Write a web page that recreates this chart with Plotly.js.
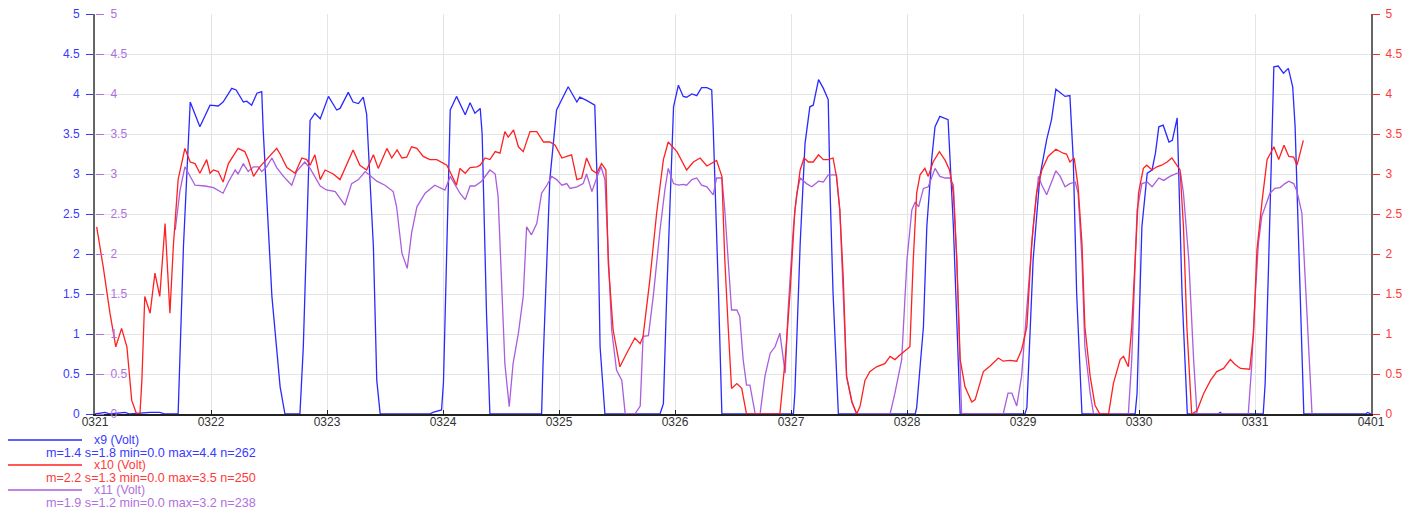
<!DOCTYPE html>
<html><head><meta charset="utf-8">
<script src="https://cdn.plot.ly/plotly-3.0.1.min.js"></script>
<style>html,body{margin:0;padding:0;background:#fff;}#chart{width:1419px;height:511px;}</style>
</head><body><div id="chart"></div>
<script>
// Day ticks (hours since 03-21 00:00) and their labels
const dayTicks = [0,24,48,72,96,120,144,168,192,216,240,264];
const dayLabels = ['0321','0322','0323','0324','0325','0326','0327','0328','0329','0330','0331','0401'];

// Series names and stats
const seriesNames = ['x9 (Volt)','x10 (Volt)','x11 (Volt)'];
const seriesStats = ['m=1.4 s=1.8 min=0.0 max=4.4 n=262','m=2.2 s=1.3 min=0.0 max=3.5 n=250','m=1.9 s=1.2 min=0.0 max=3.2 n=238'];
const seriesColors = ['#2a2aff','#ff2020','#aa5ddd'];
const labelColors = ['#3a3aff','#ff3a3a','#b070e0'];

// x9 (blue, left axis)
const x9Hours = [0,2.1,3.1,6.2,7.2,11.4,13.4,14.5,17.2,18.3,
19.7,21.7,23.8,25.5,26.5,28.3,29.2,30.7,31.4,32.4,
33.5,34.5,34.8,36.6,38.3,39.3,42.4,43.1,44.5,45.5,
46.6,48.3,50.0,50.7,52.4,53.4,54.5,55.5,56.2,57.6,
58.3,59.0,69.3,69.9,71.7,72.1,73.5,74.8,76.6,77.6,
78.6,79.7,80.1,81.0,81.7,92.4,92.7,94.1,95.5,96.5,
97.9,99.7,100.3,101.7,103.4,103.9,104.5,105.5,116.9,117.6,
118.3,119.7,120.7,121.7,122.4,123.5,124.5,125.5,126.6,127.6,
127.9,129.0,129.7,144.5,144.8,145.9,146.9,147.9,148.6,149.7,
150.7,151.7,152.1,152.7,153.8,169.7,170.0,171.4,172.1,173.1,
173.8,174.8,176.5,177.6,178.3,179.0,192.4,192.8,194.1,195.5,
196.9,197.9,198.8,200.7,201.7,202.4,203.1,204.2,215.2,215.6,
216.6,217.7,218.7,219.4,220.1,221.0,222.2,222.9,223.9,224.3,
224.9,226.0,232.4,232.8,233.2,241.7,242.1,242.8,243.5,243.9,
244.8,245.9,246.9,247.8,248.3,249.0,249.7,250.1,262.9,263.3,
264];
const x9Volts = [0,0.02,0,0.02,0,0.02,0.02,0,0,2.09,
3.9,3.59,3.86,3.85,3.9,4.07,4.05,3.9,3.91,3.86,
4.01,4.03,3.55,1.47,0.34,0,0,0.84,3.67,3.76,
3.69,3.97,3.8,3.82,4.02,3.9,3.88,3.96,3.75,2.09,
0.42,0,0,0.02,0.05,0.4,3.8,3.97,3.74,3.89,
3.76,3.82,3.5,1.26,0,0,0.63,2.93,3.8,3.92,
4.09,3.9,3.96,3.92,3.86,2.9,0.84,0,0,0.13,
1.51,3.84,4.11,3.97,3.96,4.0,3.98,4.08,4.08,4.05,
3.59,1.51,0,0,0.26,2.13,3.38,3.84,3.86,4.18,
4.07,3.93,2.76,1.51,0,0,0.08,1.09,2.34,3.18,
3.59,3.72,3.68,2.34,1.09,0,0,0.08,1.93,2.97,
3.43,3.68,4.06,3.97,3.98,3.18,1.51,0,0,0.26,
2.34,3.01,3.05,3.26,3.59,3.61,3.4,3.42,3.7,2.76,
1.51,0,0,0.02,0,0,0.38,1.84,3.3,4.34,
4.35,4.26,4.32,4.09,3.59,2.05,0.8,0,0,0.02,
0];

// x10 (red, right axis)
const x10Hours = [0.35,1.7,3.1,4.3,5.5,6.6,7.6,8.6,9.3,9.7,
10.3,11.4,12.4,13.4,14.5,15.5,16.2,17.2,18.6,19.7,
20.7,21.7,23.1,23.8,24.5,25.5,26.5,27.6,29.6,31.0,
31.7,32.8,34.1,36.2,37.6,38.3,39.7,41.4,42.8,43.8,
44.5,45.5,46.6,47.6,49.3,50.7,52.1,53.4,54.8,56.2,
57.6,58.6,60.4,61.4,62.5,63.5,64.5,65.5,66.6,67.9,
69.3,70.7,72.8,73.8,74.8,75.5,76.6,77.6,79.0,79.7,
80.7,81.7,82.8,83.8,84.8,85.5,86.6,87.6,88.6,90.0,
91.4,92.8,94.1,95.2,96.6,97.6,98.6,99.7,100.7,101.7,
102.8,103.8,104.8,105.7,106.2,107.2,108.6,110.0,111.7,112.8,
113.4,114.8,116.2,117.6,118.6,120.4,122.4,123.8,125.2,126.6,
128.6,129.7,130.3,131.0,131.7,132.8,133.8,134.8,141.7,142.8,
143.8,144.8,145.9,146.7,147.6,148.6,149.7,150.7,151.7,152.7,
153.4,154.1,154.8,155.5,156.6,157.6,158.3,159.3,160.3,161.7,
163.4,164.5,165.5,166.6,168.6,169.3,170.0,170.7,171.7,172.4,
173.4,174.7,175.9,176.8,177.6,178.3,179.0,180.0,181.4,182.1,
183.8,185.2,186.9,187.9,189.3,190.7,191.7,192.8,193.8,194.8,
195.9,197.2,198.8,200.3,201.0,201.7,202.6,203.4,204.2,204.8,
205.9,206.9,207.9,209.7,210.7,212.1,212.8,213.8,214.5,215.2,
215.9,216.9,217.6,218.7,219.7,220.7,221.8,222.8,223.9,224.5,
225.2,225.9,226.9,228.0,229.4,230.8,232.1,233.5,234.9,235.9,
237.0,238.9,239.7,240.4,241.5,242.5,243.9,244.9,246.0,247.0,
248.0,248.7,250.0];
const x10Volts = [2.34,1.84,1.26,0.84,1.07,0.84,0.17,0,0,0.42,
1.47,1.26,1.76,1.47,2.38,1.26,2.09,2.93,3.32,3.15,
3.13,3.01,3.18,3.01,3.05,3.03,2.9,3.13,3.32,3.28,
3.18,2.97,3.09,3.22,3.32,3.25,3.08,3.01,3.2,3.18,
3.11,3.24,2.93,3.05,3.0,2.93,3.13,3.3,3.11,3.05,
3.24,3.07,3.32,3.2,3.3,3.2,3.21,3.34,3.32,3.22,
3.18,3.18,3.11,2.99,2.86,3.07,3.01,3.08,3.09,3.11,
3.2,3.18,3.28,3.26,3.53,3.46,3.55,3.34,3.28,3.53,
3.53,3.4,3.4,3.36,3.2,3.22,3.24,2.93,2.95,3.2,
3.05,3.01,3.13,3.05,1.88,1.05,0.59,0.76,0.95,0.88,
0.97,1.68,2.51,3.18,3.4,3.28,3.05,3.15,3.2,3.1,
3.17,2.97,1.93,1.09,0.32,0.38,0.32,0,0,0.68,
1.51,2.55,3.05,3.2,3.15,3.15,3.24,3.18,3.18,3.2,
2.97,2.55,1.72,0.47,0.15,0,0.1,0.42,0.53,0.59,
0.63,0.72,0.68,0.74,0.84,1.93,2.76,2.99,3.07,2.97,
3.15,3.28,3.17,3.05,2.76,1.93,0.68,0.34,0.15,0.18,
0.53,0.6,0.7,0.66,0.67,0.66,0.8,1.09,2.13,2.76,
3.05,3.22,3.31,3.26,3.25,3.15,3.2,2.84,2.13,1.09,
0.47,0.11,0,0,0.38,0.68,0.72,0.59,1.09,1.93,
2.76,3.07,3.11,3.05,3.09,3.11,3.15,3.2,3.1,3.05,
2.34,1.09,0,0.04,0.26,0.42,0.53,0.57,0.68,0.62,
0.57,0.56,1.01,2.05,2.68,3.18,3.34,3.18,3.36,3.22,
3.21,3.11,3.42];

// x11 (purple, inner left axis)
const x11Hours = [16.6,17.6,18.6,19.7,20.7,22.8,24.5,26.5,27.6,29.0,
29.6,30.7,31.7,32.8,33.8,34.5,35.5,36.6,37.6,39.0,
40.7,41.7,42.8,43.4,44.5,46.6,47.9,49.7,51.7,53.1,
54.5,55.9,56.9,58.3,60.0,61.7,62.4,63.5,64.6,65.5,
66.6,68.3,70.3,71.4,72.4,73.5,74.5,75.5,76.6,77.6,
78.6,80.0,81.7,82.8,83.4,84.1,84.8,85.7,86.5,87.6,
88.6,89.3,90.3,91.4,92.4,93.4,94.5,95.5,96.6,97.6,
98.3,99.7,101.0,101.7,102.8,103.8,104.7,105.5,106.2,106.9,
107.9,109.0,109.7,111.7,112.8,113.4,114.5,115.5,116.9,117.9,
118.6,119.7,120.7,121.7,122.4,123.5,124.5,125.5,126.6,127.9,
128.6,129.7,130.3,131.0,131.7,132.8,133.4,134.1,134.8,135.5,
136.6,137.6,138.6,139.7,140.7,141.7,142.8,143.4,144.5,145.2,
145.9,147.2,148.3,149.7,150.7,151.7,153.4,154.1,154.8,155.5,
156.6,157.6,164.5,165.5,166.9,168.0,169.0,169.7,170.4,171.4,
172.4,173.8,174.8,175.9,176.9,177.6,178.3,179.0,179.3,187.9,
188.9,189.7,190.7,191.7,193.1,194.1,195.2,195.9,196.9,197.9,
198.8,199.7,200.7,201.7,202.8,203.4,204.2,204.8,205.9,206.6,
213.8,214.5,215.6,216.6,217.7,218.7,220.1,221.1,222.4,223.9,
224.6,225.2,226.3,227.3,228.0,238.6,239.3,240.0,240.7,241.4,
242.1,243.1,244.1,245.2,246.2,247.0,248.0,248.7,249.7,250.4,
251.1,251.8];
const x11Volts = [2.3,2.8,3.09,2.97,2.86,2.85,2.83,2.76,2.9,3.05,
3.0,3.13,3.03,3.09,3.09,3.03,3.09,3.2,3.08,2.97,
2.86,3.03,3.11,3.15,3.07,2.85,2.8,2.78,2.61,2.88,
2.93,3.03,2.98,2.91,2.86,2.78,2.59,2.01,1.82,2.26,
2.59,2.76,2.86,2.83,2.8,2.97,2.86,2.76,2.68,2.85,
2.85,2.91,3.05,3.0,2.72,1.68,0.63,0.09,0.63,1.01,
1.47,2.34,2.24,2.38,2.76,2.85,2.97,2.93,2.86,2.88,
2.82,2.84,2.88,3.0,2.78,2.95,3.09,2.93,1.9,1.05,
0.55,0.42,0,0,0.1,0.97,0.98,1.47,2.3,2.8,
3.07,2.88,2.86,2.87,2.86,2.93,2.95,2.86,2.84,2.74,
2.95,2.95,2.55,1.93,1.3,1.3,1.22,0.68,0.36,0.36,
0,0,0.47,0.76,0.84,1.01,0.51,1.3,2.34,2.76,
2.95,2.88,2.84,2.91,2.9,2.99,2.99,2.55,1.51,0.47,
0.15,0,0,0.26,0.68,1.93,2.55,2.65,2.59,2.82,
2.84,3.07,2.97,2.95,2.95,2.86,1.93,0.68,0,0,
0.26,0.26,0.1,0.47,1.51,2.34,2.97,2.86,2.74,2.9,
3.04,2.97,2.84,2.88,2.9,2.76,1.93,0.84,0.26,0,
0,0.68,2.55,2.88,2.9,2.84,2.95,2.92,2.97,3.01,
3.01,2.76,1.93,0.68,0,0,0.59,1.43,2.13,2.47,
2.59,2.76,2.82,2.83,2.88,2.91,2.88,2.78,2.51,1.63,
0.8,0];

// plot-area pixel geometry helpers (layout only)
const PL = 95, PR = 1371, PT = 14, PB = 414;
const px2x = p => (p - PL) / (PR - PL);
const px2y = p => (PB - p) / (PB - PT);

const traces = [
  {x:x9Hours, y:x9Volts, yaxis:'y', type:'scatter', mode:'lines', name:seriesNames[0], line:{color:seriesColors[0], width:1.3}},
  {x:x10Hours, y:x10Volts, yaxis:'y3', type:'scatter', mode:'lines', name:seriesNames[1], line:{color:seriesColors[1], width:1.3}},
  {x:x11Hours, y:x11Volts, yaxis:'y2', type:'scatter', mode:'lines', name:seriesNames[2], line:{color:seriesColors[2], width:1.3}}
];

const legendRows = [440, 465, 490];
const shapes = [], annotations = [];
legendRows.forEach((py, i) => {
  shapes.push({type:'line', xref:'paper', yref:'paper', x0:px2x(8), x1:px2x(82), y0:px2y(py), y1:px2y(py), line:{color:seriesColors[i], width:1.3}});
  annotations.push({xref:'paper', yref:'paper', x:px2x(92), y:px2y(py), xanchor:'left', yanchor:'middle', showarrow:false, text:seriesNames[i], font:{color:labelColors[i], size:12.3}});
  annotations.push({xref:'paper', yref:'paper', x:px2x(44), y:px2y(py+13), xanchor:'left', yanchor:'middle', showarrow:false, text:seriesStats[i], font:{color:labelColors[i], size:12.6}});
});

const layout = {
  width:1419, height:511,
  margin:{l:PL, r:1419-PR, t:PT, b:511-PB, pad:0},
  paper_bgcolor:'#ffffff', plot_bgcolor:'#ffffff',
  showlegend:false,
  font:{family:'Arial, "Liberation Sans", sans-serif', size:12, color:'#333'},
  xaxis:{range:[0,264], tickmode:'array', tickvals:dayTicks, ticktext:dayLabels,
    showgrid:true, gridcolor:'#e4e4e4', gridwidth:1, showline:true, linecolor:'#222', linewidth:1.5,
    ticks:'inside', ticklen:4, tickcolor:'#222', tickfont:{color:'#333', size:12}, zeroline:false,
    ticklabelstandoff:-4, ticklabeloverflow:'allow'},
  yaxis:{range:[0,5], tick0:0, dtick:0.5, showgrid:true, gridcolor:'#e4e4e4', gridwidth:1,
    showline:true, linecolor:'#666', linewidth:2, ticks:'outside', ticklen:7, tickcolor:'#3a3aff',
    tickfont:{color:'#3a3aff', size:12}, zeroline:false, ticklabelstandoff:4},
  yaxis2:{overlaying:'y', anchor:'free', position:0, side:'right', range:[0,5], tick0:0, dtick:0.5,
    showgrid:false, zeroline:false, showline:false, ticks:'outside', ticklen:8, tickcolor:'#b070e0',
    tickfont:{color:'#b070e0', size:12}, ticklabelstandoff:4, ticklabeloverflow:'allow'},
  yaxis3:{overlaying:'y', side:'right', range:[0,5], tick0:0, dtick:0.5, showgrid:false, zeroline:false,
    showline:true, linecolor:'#666', linewidth:2, ticks:'outside', ticklen:7, tickcolor:'#ff2a2a',
    tickfont:{color:'#ff3a3a', size:12}, ticklabelstandoff:3},
  shapes:shapes, annotations:annotations
};

Plotly.newPlot('chart', traces, layout, {staticPlot:true, displayModeBar:false});
</script>
</body></html>
